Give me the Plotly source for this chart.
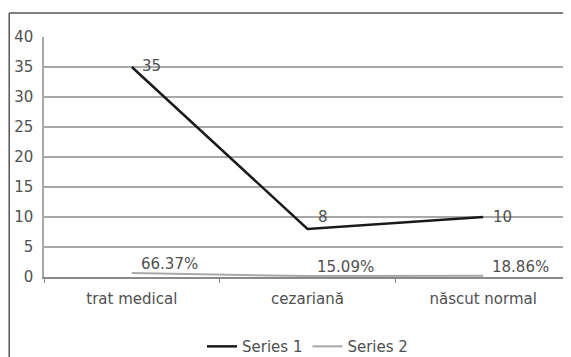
import plotly.graph_objects as go

categories = ["trat medical", "cezariană", "născut normal"]
series1 = [35, 8, 10]
series2 = [0.6637, 0.1509, 0.1886]
series1_labels = ["35", "8", "10"]
series2_labels = ["66.37%", "15.09%", "18.86%"]
y_ticks = [0, 5, 10, 15, 20, 25, 30, 35, 40]

font = dict(family="DejaVu Sans, sans-serif", size=15, color="#505050")

fig = go.Figure()
fig.add_trace(go.Scatter(
    x=categories, y=series1, mode="lines", name="Series 1",
    line=dict(color="#1a1a1a", width=2.5)))
fig.add_trace(go.Scatter(
    x=categories, y=series2, mode="lines", name="Series 2",
    line=dict(color="#a8a8a8", width=2)))

# data labels
s1_yshift = {"trat medical": 1, "cezariană": 12, "născut normal": 0}
for cat, val, lab in zip(categories, series1, series1_labels):
    fig.add_annotation(x=cat, y=val, text=lab, showarrow=False, xanchor="left",
                       yanchor="middle", xshift=8, yshift=s1_yshift[cat], font=font)
for cat, val, lab in zip(categories, series2, series2_labels):
    fig.add_annotation(x=cat, y=val, text=lab, showarrow=False, xanchor="left",
                       yanchor="bottom", xshift=7, yshift=-2, font=font)

fig.update_layout(
    width=563, height=349,
    margin=dict(l=36, r=0, t=29, b=80, autoexpand=False),
    paper_bgcolor="white", plot_bgcolor="white",
    font=font,
    showlegend=True,
    legend=dict(orientation="h", x=0.5, xanchor="center", y=-0.29, yanchor="middle",
                font=dict(size=15, color="#505050"), itemwidth=30),
    xaxis=dict(showgrid=False, showline=True, linecolor="#8a8a8a", linewidth=1.5,
               ticks="outside", tickson="boundaries", ticklen=4, tickcolor="#8a8a8a",
               ticklabelstandoff=7, range=[-0.5, 2.5]),
    yaxis=dict(range=[0, 40], tickvals=y_ticks, showgrid=True, gridcolor="#a8a8a8",
               gridwidth=1.5, showline=True, linecolor="#a8a8a8", linewidth=1.5,
               zeroline=False, ticks="", ticklabelstandoff=6),
    shapes=[
        dict(type="line", xref="paper", yref="paper", x0=-0.066, x1=1.02, y0=1.1, y1=1.1,
             line=dict(color="#555555", width=1.5)),
        dict(type="line", xref="paper", yref="paper", x0=-0.066, x1=-0.066, y0=1.1, y1=-0.4,
             line=dict(color="#555555", width=1.5)),
    ],
)

fig.write_html("out.html")
